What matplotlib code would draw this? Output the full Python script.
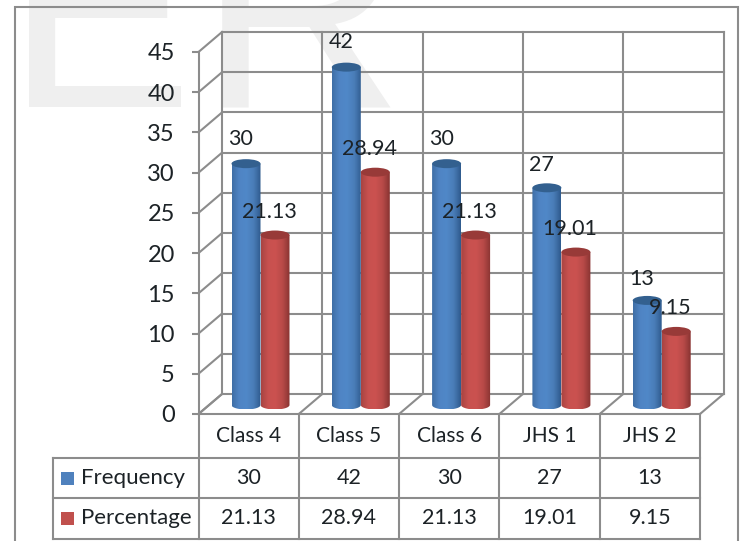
import matplotlib
matplotlib.use('Agg')
import matplotlib.pyplot as plt
import numpy as np
from matplotlib.patches import Ellipse, Polygon, Rectangle

plt.rcParams['font.family'] = ['Lato', 'DejaVu Sans']

# values
categories = ['Class 4', 'Class 5', 'Class 6', 'JHS 1', 'JHS 2']
frequency = [30, 42, 30, 27, 13]
percentage = [21.13, 28.94, 21.13, 19.01, 9.15]
frequency_labels = ['30', '42', '30', '27', '13']
percentage_labels = ['21.13', '28.94', '21.13', '19.01', '9.15']
y_ticks = [0, 5, 10, 15, 20, 25, 30, 35, 40, 45]

W, H = 743, 541
LINE = '#8c8c8c'
INK = '#1c2226'

# pixels per data unit on the chart axes
PX_X = (700 - 198.5) / 5
PX_Y = (414 - 52) / 45
DX = 23.5 / PX_X   # depth of the 3d box
DY = 20 / PX_Y
BASE = 9 / PX_Y    # bars stand a little behind the front edge
RX = 14.5 / PX_X
RY = 4.5 / PX_Y

# how far the frequency labels sit above their bars, in pixels
freq_lift = [25, 25, 25, 23, 21]


def shade(stops):
    # horizontal gradient for a cylinder body
    cols = np.array([matplotlib.colors.to_rgb(c) for c in stops])
    t = np.linspace(0, 1, 64)
    pos = np.linspace(0, 1, len(stops))
    return np.dstack([np.interp(t, pos, cols[:, k]) for k in range(3)]).reshape(1, 64, 3)


def cylinder(ax, xc, value, stops, top_col):
    top = BASE + value
    a = np.linspace(np.pi, 2 * np.pi, 40)
    xs = np.r_[xc - RX, xc + RX * np.cos(a), xc + RX, xc - RX]
    ys = np.r_[top, BASE + RY * np.sin(a), top, top]
    body = Polygon(np.c_[xs, ys], closed=True, transform=ax.transData, fc='none', ec='none')
    ax.add_patch(body)
    im = ax.imshow(shade(stops), extent=(xc - RX, xc + RX, BASE - RY, top), aspect='auto',
                   zorder=4, interpolation='bilinear')
    im.set_clip_path(body)
    im.set_clip_on(True)
    ax.add_patch(Ellipse((xc, top), 2 * RX, 2 * RY, fc=top_col, ec='none', zorder=5, clip_on=False))


fig = plt.figure(figsize=(W / 100, H / 100), dpi=100, facecolor='white')

# faint letters behind the chart
fig.text(6 / W, 1 - 107 / H, 'E', fontsize=202, family='Liberation Sans', color='#efefef',
         ha='left', va='baseline', zorder=-2)
fig.text(199 / W, 1 - 107 / H, 'R', fontsize=204, family='Liberation Sans', color='#efefef',
         ha='left', va='baseline', zorder=-2)
fig.add_artist(Rectangle((14.5 / W, -0.05), (738 - 14.5) / W, 1 - 7 / H + 0.05, transform=fig.transFigure,
                         fc='none', ec=LINE, lw=1.5, zorder=-1))

ax = fig.add_axes([198.5 / W, 1 - 414 / H, 501.5 / W, 362 / H])
ax.patch.set_alpha(0)
for s in ['top', 'right', 'bottom']:
    ax.spines[s].set_visible(False)
ax.spines['left'].set_color(LINE)
ax.spines['left'].set_linewidth(1.5)

line = dict(color=LINE, lw=1.5, zorder=2, clip_on=False, solid_capstyle='projecting')

# back wall, side wall and floor
for t in y_ticks:
    ax.plot([DX, 5 + DX], [t + DY, t + DY], **line)
    ax.plot([0, DX], [t, t + DY], **line)
for i in range(6):
    ax.plot([i + DX, i + DX], [DY, 45 + DY], **line)
    ax.plot([i, i + DX], [0, DY], **line)

# bars and their value labels
blue = ['#3f6fa6', '#4f84c4', '#5088c8', '#4a7db8', '#2f5b8e']
red = ['#a84442', '#c8514f', '#cb5250', '#b84a48', '#883432']
for i in range(len(categories)):
    xb = i + 47.5 / PX_X
    xr = i + 76.5 / PX_X
    cylinder(ax, xb, frequency[i], blue, '#33608f')
    cylinder(ax, xr, percentage[i], red, '#983a38')
    ax.text(xb - 5 / PX_X, BASE + frequency[i] + freq_lift[i] / PX_Y, frequency_labels[i], fontsize=15.5,
            color=INK, ha='center', va='center', zorder=8, clip_on=False)
    ax.text(xr - 6 / PX_X, BASE + percentage[i] + 23 / PX_Y, percentage_labels[i], fontsize=15.5,
            color=INK, ha='center', va='center', zorder=8, clip_on=False)

ax.set_xlim(0, 5)
ax.set_ylim(0, 45)
ax.set_xticks([])
ax.set_yticks(y_ticks)
ax.tick_params(axis='y', length=5, width=1.5, color=LINE, pad=12, labelsize=17, labelcolor=INK)

# data table under the chart
row1 = -(458 - 414) / PX_Y
row2 = -(498 - 414) / PX_Y
row3 = -(539 - 414) / PX_Y
left = -(198.5 - 53) / PX_X
ax.plot([0, 5], [0, 0], **line)
for r in (row1, row2, row3):
    ax.plot([left, 5], [r, r], **line)
ax.plot([left, left], [row1, row3], **line)
for i in range(6):
    ax.plot([i, i], [0, row3], **line)

for i in range(len(categories)):
    ax.text(i + 0.5, row1 / 2, categories[i], fontsize=15, color=INK, ha='center', va='center', clip_on=False)
    ax.text(i + 0.5, (row1 + row2) / 2, frequency_labels[i], fontsize=15.5, color=INK, ha='center', va='center', clip_on=False)
    ax.text(i + 0.5, (row2 + row3) / 2, percentage_labels[i], fontsize=15.5, color=INK, ha='center', va='center', clip_on=False)

# legend keys in the table's first column
key_x = -(198.5 - 61) / PX_X
key_w = 13 / PX_X
key_h = 13 / PX_Y
for name, r0, r1, col in (('Frequency', row1, row2, '#4f81bd'), ('Percentage', row2, row3, '#c0504d')):
    mid = (r0 + r1) / 2
    ax.add_patch(Rectangle((key_x, mid - key_h / 2), key_w, key_h, fc=col, ec='none', clip_on=False))
    ax.text(-(198.5 - 81) / PX_X, mid, name, fontsize=16, color=INK, ha='left', va='center', clip_on=False)

fig.savefig('out.png', dpi=100)
